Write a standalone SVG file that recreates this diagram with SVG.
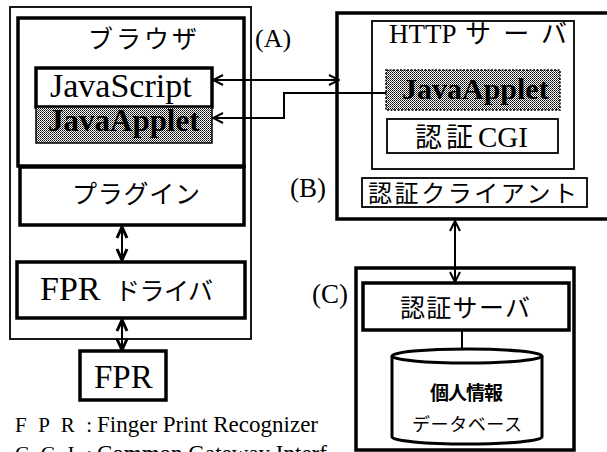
<svg xmlns="http://www.w3.org/2000/svg" width="607" height="452" viewBox="0 0 607 452">
<defs>
<pattern id="dots" width="2" height="2" patternUnits="userSpaceOnUse">
<rect width="2" height="2" fill="#fff"/>
<rect x="0" y="0" width="1" height="1" fill="#000"/>
<rect x="1" y="1" width="1" height="1" fill="#444"/>
</pattern>
<marker id="ah" markerWidth="12" markerHeight="12" refX="11" refY="6" orient="auto-start-reverse" markerUnits="userSpaceOnUse">
<path d="M1,1 L11,6 L1,11" fill="none" stroke="#000" stroke-width="2"/>
</marker>
<marker id="ahb" markerWidth="14" markerHeight="14" refX="12" refY="7" orient="auto-start-reverse" markerUnits="userSpaceOnUse">
<path d="M1,2 L12,7 L1,12" fill="none" stroke="#000" stroke-width="3"/>
</marker>
</defs>
<style>
.thin{fill:#fff;stroke:#000;stroke-width:1.8}
.thick{fill:#fff;stroke:#000;stroke-width:3.5}
.shade{fill:url(#dots);stroke:#000;stroke-width:1.5}
.t{font-family:"Liberation Serif","Times New Roman",serif;fill:#000}
.j{font-family:"Noto Sans CJK JP",sans-serif;fill:#000}
.g{font-family:"Noto Sans CJK JP",sans-serif;fill:#000}
.ln{fill:none;stroke:#000;stroke-width:2}
</style>
<g id="nodeA">
<rect class="thin" x="10" y="7" width="241" height="332"/>
<text class="t" x="255" y="47" font-size="26">(A)</text>
</g>
<g id="browser">
<rect class="thick" x="18" y="18" width="226" height="148"/>
<text class="j" x="88" y="48" font-size="25" textLength="109" lengthAdjust="spacing">ブラウザ</text>
</g>
<g id="javascript">
<rect class="thick" x="36" y="68" width="176" height="39" stroke-width="2.5"/>
<text class="t" x="50" y="97" font-size="34">JavaScript</text>
</g>
<g id="applet-left">
<rect class="shade" x="36" y="107" width="176" height="36"/>
<text class="t" x="48" y="131" font-size="31" font-weight="bold">JavaApplet</text>
</g>
<g id="plugin">
<rect class="thick" x="20" y="167" width="224" height="58" stroke-width="3"/>
<text class="j" x="72" y="203" font-size="25" textLength="128" lengthAdjust="spacing">プラグイン</text>
</g>
<g id="fpr-driver">
<rect class="thick" x="17" y="262" width="228" height="56"/>
<text class="t" x="40" y="300" font-size="34">FPR</text>
<text class="j" x="115" y="300" font-size="25" textLength="98" lengthAdjust="spacing">ドライバ</text>
</g>
<g id="fpr">
<rect class="thick" x="80" y="351" width="86" height="49" stroke-width="3"/>
<text class="t" x="94" y="388" font-size="33">FPR</text>
</g>
<g id="legend">
<text class="t" x="15" y="432" font-size="21" textLength="77" lengthAdjust="spacing">F P R :</text>
<text class="t" x="97" y="432" font-size="23">Finger Print Recognizer</text>
<text class="t" x="15" y="461" font-size="21" textLength="77" lengthAdjust="spacing">C G I :</text>
<text class="t" x="97" y="461" font-size="23">Common Gateway Interf</text>
</g>
<g id="nodeB">
<rect class="thick" x="337" y="13" width="280" height="206"/>
<text class="t" x="290" y="197" font-size="27">(B)</text>
</g>
<g id="http-server">
<rect class="thin" x="372" y="21" width="202" height="148"/>
<text class="t" x="389" y="43" font-size="27">HTTP</text>
<text class="j" x="465" y="43" font-size="26" textLength="102" lengthAdjust="spacing">サーバ</text>
</g>
<g id="applet-right">
<rect class="shade" x="386" y="70" width="174" height="40" stroke-dasharray="2,1.5"/>
<text class="t" x="402" y="99" font-size="30" font-weight="bold">JavaApplet</text>
</g>
<g id="auth-cgi">
<rect class="thin" x="387" y="119" width="171" height="34"/>
<text class="j" x="415" y="147" font-size="27" textLength="58" lengthAdjust="spacing">認証</text>
<text class="t" x="478" y="147" font-size="29">CGI</text>
</g>
<g id="auth-client">
<rect class="thin" x="362" y="178" width="225" height="29"/>
<text class="j" x="368" y="202" font-size="24" textLength="209" lengthAdjust="spacing">認証クライアント</text>
</g>
<g id="nodeC">
<rect class="thick" x="356" y="268" width="218" height="182"/>
<text class="t" x="312" y="303" font-size="27">(C)</text>
</g>
<g id="auth-server">
<rect class="thick" x="363" y="283" width="206" height="47" stroke-width="2.5"/>
<text class="j" x="400" y="317" font-size="25" textLength="130" lengthAdjust="spacing">認証サーバ</text>
</g>
<g id="database">
<path d="M392,356 L392,437 A75,7 0 0 0 542,437 L542,356" fill="#fff" stroke="#000" stroke-width="3"/>
<ellipse cx="467" cy="356" rx="75" ry="7" fill="#fff" stroke="#000" stroke-width="3"/>
<text class="g" x="430" y="400" font-size="19" font-weight="bold" textLength="73" lengthAdjust="spacing">個人情報</text>
<text class="g" x="412" y="431" font-size="18" textLength="110" lengthAdjust="spacing">データベース</text>
</g>
<g id="connectors">
<line class="ln" x1="213" y1="80" x2="339" y2="80" marker-start="url(#ah)" marker-end="url(#ah)"/>
<polyline class="ln" points="386,93 284,93 284,118 213,118" marker-end="url(#ah)"/>
<line class="ln" x1="122" y1="227" x2="122" y2="260" stroke-width="3" marker-start="url(#ahb)" marker-end="url(#ahb)"/>
<line class="ln" x1="122" y1="320" x2="122" y2="350" stroke-width="3" marker-start="url(#ahb)" marker-end="url(#ahb)"/>
<line class="ln" x1="455" y1="221" x2="455" y2="282" marker-start="url(#ah)" marker-end="url(#ah)"/>
<line class="ln" x1="462" y1="330" x2="462" y2="349"/>
</g>
</svg>
